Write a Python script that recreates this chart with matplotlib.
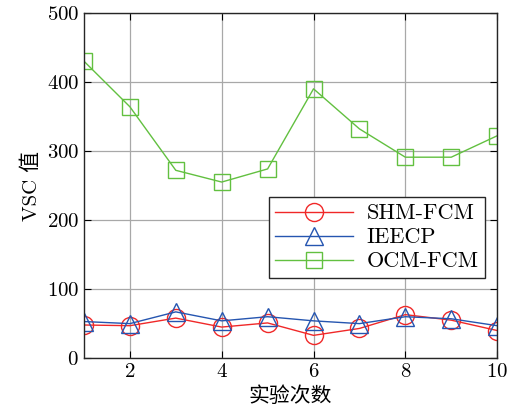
import matplotlib
matplotlib.use("Agg")
import matplotlib.pyplot as plt

plt.rcParams['font.family'] = ['cmr10', 'Noto Sans CJK SC']
plt.rcParams['axes.formatter.use_mathtext'] = True
plt.rcParams['mathtext.fontset'] = 'cm'

x = [1, 2, 3, 4, 5, 6, 7, 8, 9, 10]
shm_fcm = [48, 47, 58, 45, 51, 33, 43, 63, 55, 40]
ieecp = [53, 50, 67, 54, 60, 54, 50, 60, 57, 47]
ocm_fcm = [430, 364, 272, 255, 274, 390, 332, 291, 291, 322]
labels = ['SHM-FCM', 'IEECP', 'OCM-FCM']

fig = plt.figure(figsize=(5.12, 4.15), dpi=100)
ax = fig.add_axes([0.164, 0.137, 0.807, 0.832])

ax.plot(x, shm_fcm, color='#f02828', lw=1.0, marker='o', ms=13, mfc='none', mew=1.0, label=labels[0])
ax.plot(x, ieecp, color='#2555b0', lw=1.0, marker='^', ms=13, mfc='none', mew=1.0, label=labels[1])
ax.plot(x, ocm_fcm, color='#62c040', lw=1.0, marker='s', ms=11, mfc='none', mew=1.0, label=labels[2])

ax.set_xlim(1, 10)
ax.set_ylim(0, 500)
ax.set_xticks([2, 4, 6, 8, 10])
ax.set_yticks([0, 100, 200, 300, 400, 500])
ax.grid(True, color='#a8a8a8', lw=0.9)
ax.set_axisbelow(True)
ax.tick_params(direction='in', top=True, right=True, labelsize=15, length=5)
for s in ax.spines.values():
    s.set_linewidth(1.0)
    s.set_color('#262626')

ax.set_xlabel('实验次数', fontsize=15, labelpad=4)
ax.set_ylabel('VSC 值', fontsize=15, labelpad=4)

leg = ax.legend(loc='lower right', bbox_to_anchor=(0.971, 0.232), borderaxespad=0,
                fontsize=16, frameon=True, fancybox=False, edgecolor='#262626', framealpha=1,
                handlelength=3.5, borderpad=0.3, labelspacing=0.2, handletextpad=0.6)
leg.get_frame().set_linewidth(1.0)

fig.savefig('out.png', dpi=100)
